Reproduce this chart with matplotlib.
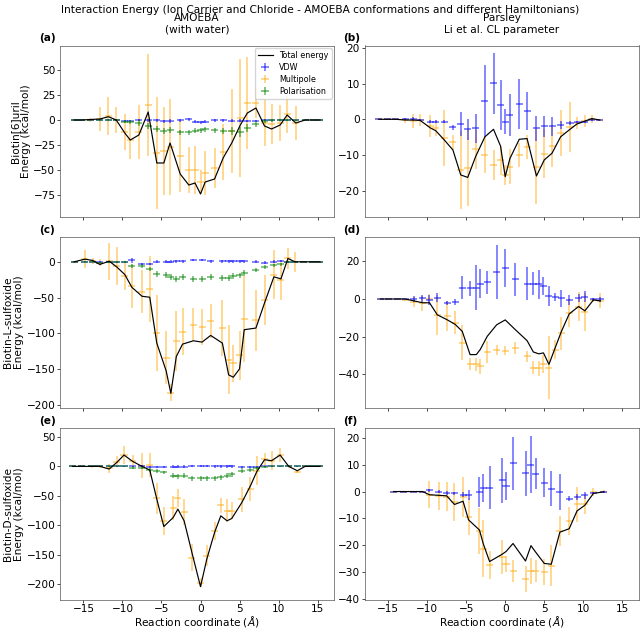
import matplotlib
matplotlib.use('Agg')
import matplotlib.pyplot as plt

plt.rcParams['font.family'] = ['DejaVu Sans']
FS = 7.6

# ---------------- data ----------------
# (a) AMOEBA, Biotin[6]uril
a_x = [-16.2, -15.2, -14.1, -12.9, -11.8, -10.8, -9.7, -9.0, -7.9, -6.7, -5.6, -4.7, -3.9, -2.6, -1.5, -0.7,
       0.0, 0.6, 1.8, 2.9, 4.0, 5.1, 6.0, 7.1, 8.2, 9.1, 10.2, 11.1, 12.2, 13.4, 14.5, 15.3]
a_total = [0, 0, 0.5, 1, 3.3, 0, -13, -20, -15, 8, -43, -43, -23, -54, -65, -63,
           -74, -62, -59, -38, -23, -5, 7, 12, -6, -9, -5, 5, -3, 0, 0, 0]
a_vdw = [0, 0, 0, 0.5, 0.5, 0, -0.7, -0.7, 0, 0, 0, -1, -1.3, 0, 0.7, -1.7,
         -2.3, -1.7, 0, -0.3, -0.7, -0.7, -0.7, -0.7, -0.3, -0.3, 0, 0, 0, 0, 0, 0]
a_vdw_err = [0, 0, 0.3, 0.5, 0.8, 0.8, 1, 1, 1.2, 1.5, 1.5, 1.5, 2, 1.5, 1.5, 1.5,
             1.5, 1.5, 1.5, 1.5, 1.5, 1.5, 1.2, 1, 1, 0.8, 0.8, 0.5, 0.5, 0.3, 0, 0]
a_mult = [0, 0, 0.5, 1, 4, 0, -12, -20, -12, 15, -33, -31, -27, -36, -50, -50,
          -62, -53, -48, -32, -11, 2, 17, 17, -3, -4, -3, 6, -3, 0, 0, 0]
a_mult_err = [0, 0, 2, 12, 19, 13, 18, 19, 27, 51, 56, 44, 48, 36, 23, 24,
              12, 22, 20, 28, 42, 59, 46, 15, 23, 20, 18, 19, 17, 1, 0, 0]
a_pol = [0, 0, 0, 0, 0, 0, -1.7, -1.7, -3.3, -6, -9.3, -10.7, -10, -12.3, -12.3, -10.7,
         -10, -9, -10, -10.7, -10.7, -11.7, -7.7, -4.3, -0.7, -0.3, 0, 0, 0, 0, 0, 0]
a_pol_err = [0, 0, 0.3, 0.5, 0.8, 1, 1.5, 2, 3, 3, 3, 3, 3, 2.5, 2.5, 2.5,
             2.5, 2.5, 2.5, 3, 4, 5, 4, 3, 2, 1.5, 1, 0.8, 0.5, 0.3, 0, 0]

# (b) Parsley, Biotin[6]uril
b_x = [-16.2, -15.1, -14.0, -12.8, -11.8, -10.9, -9.6, -8.9, -7.8, -6.7, -5.7, -4.8, -3.8, -2.6, -1.5,
       -0.6, 0.0, 0.6, 1.8, 2.8, 4.0, 5.0, 6.0, 7.1, 8.3, 9.2, 10.2, 11.1, 12.1]
b_total = [0, 0, 0, -0.2, -0.2, -0.3, -2.4, -3.2, -5.8, -8.6, -15.6, -16.3, -10.5, -4.9, -2.8,
           -7.5, -16.1, -11, -5.6, -5.4, -15.9, -11.4, -9.5, -4.9, -2.8, -1.3, -0.5, 0.2, -0.2]
b_vdw = [0, 0, 0, 0, 0, -0.2, -0.7, -0.7, -0.7, -2.2, -1.3, -2.8, -2.5, 5.1, 10.1,
         4.0, -0.7, 1.2, 4.3, 2.3, -2.5, -2.0, -2.0, -1.6, -1.1, -0.7, -0.7, -0.2, -0.2]
b_vdw_err = [0, 0, 0, 0.3, 0.6, 0.3, 0.4, 0.4, 0.4, 0.7, 3.4, 2.9, 4.1, 10, 8.6,
             7, 3.5, 6, 7, 5.4, 3.5, 3, 2.7, 1, 0.5, 0.3, 0.3, 0.2, 0.1]
b_mult = [0, 0, 0, -0.2, -0.4, -0.2, -1.9, -2.5, -5.3, -6.5, -14.2, -13.6, -8.4, -10, -12.8,
          -11.5, -15.6, -13.3, -10, -7.7, -13.3, -9.6, -7.5, -3.9, -2.2, -1, -0.4, 0.2, -0.2]
b_mult_err = [0, 0, 0, 0.7, 2, 1.7, 3, 2.3, 7.8, 2, 11, 10.8, 5.5, 5, 4.2,
              4, 2.8, 4.9, 3.3, 3.3, 10.5, 7, 6, 6.5, 7, 1.6, 1.7, 1.1, 0.3]

# (c) AMOEBA, Biotin-L-sulfoxide
c_x = [-16.2, -14.8, -13.8, -12.9, -11.7, -10.7, -9.7, -8.8, -7.5, -6.5, -5.6, -4.4, -3.8, -3.1, -2.3, -0.9,
       0.2, 1.3, 2.8, 3.6, 4.2, 5.0, 5.6, 7.1, 8.2, 9.4, 10.3, 11.2, 12.1, 13.2, 14.3, 15.3]
c_total = [0, 3.7, 1.9, -3.7, 0.9, -7.5, -17.8, -35.6, -48.2, -49.6, -113.8, -152.6, -184, -132.5, -115.2, -110.5,
           -112.4, -103, -113.8, -158.2, -161.5, -149.8, -95, -92.7, -57.6, -21, -23.9, 4.7, 0, 0, 0, 0]
c_vdw = [0, 0, 0, 0, 0, 0, 0, 2, -3, -3, 0, 0, 0, 1, 1, 2.5,
         2.5, 1, 1, 1, 1, 1, 1, 0, -1, 0, 1, 0, 0, 0, 0, 0]
c_vdw_err = [0, 0.5, 0.5, 1, 1, 1, 1.5, 3, 2, 2, 2, 2, 2, 2, 2, 2,
             2, 2, 2, 2, 2, 2, 2, 2, 2, 2, 1.5, 1, 0.5, 0, 0, 0]
c_mult = [0, 3.7, 1, -1.4, 0.9, -6, -20, -34, -42, -38, -100, -134, -183, -111, -98, -88,
          -91, -83, -93, -137, -142, -131, -80, -82, -54, -18, -25, 5, 0, 0, 0, 0]
c_mult_err = [0, 13, 4, 5, 26, 27, 20, 30, 30, 46, 53, 37, 12, 42, 33, 23,
              25, 24, 39, 48, 26, 34, 60, 43, 35, 34, 28, 15, 14, 0, 0, 0]
c_pol = [0, 0, 0, -1, 0, 0, 0, -6, -6, -10, -17, -18, -21.5, -24, -21, -24,
         -24, -21, -22.5, -22.5, -20, -19, -15.5, -11.7, -7, -4.7, -3.7, 0, 0, 0, 0, 0]
c_pol_err = [0, 0.5, 0.5, 1, 1, 1, 1.5, 3, 3, 3, 4, 4, 4, 4, 4, 4,
             4, 4, 4, 4, 4, 4, 4, 3, 3, 2, 2, 1, 0.5, 0, 0, 0]

# (d) Parsley, Biotin-L-sulfoxide
d_x = [-16.0, -14.9, -13.8, -12.8, -11.7, -10.6, -9.7, -8.7, -7.4, -6.4, -5.5, -4.5, -3.7, -3.2, -2.3,
       -1.1, 0.0, 1.3, 2.8, 3.6, 4.3, 4.9, 5.6, 6.4, 7.2, 8.2, 9.4, 10.2, 11.3, 12.2]
d_total = [0, 0, 0, 0, -1, -2, -2, -8.4, -11.1, -13.5, -17.2, -29.5, -29.5, -26.8, -19.8,
           -13.7, -11.1, -16.3, -22.1, -28.1, -29.1, -28.6, -34.7, -25.9, -17.2, -7.9, -4, -6.3, -0.5, -1]
d_vdw = [0, 0, 0, 0, 0, 0.4, -0.5, 0.7, -2, -1.4, 6, 5.6, 6, 8.2, 8.8,
         14.4, 16.5, 10.4, 8.2, 8.2, 7.7, 7, 1.6, 1.0, 0.4, -0.5, 0.7, 1.2, -0.2, -0.2]
d_vdw_err = [0, 0, 0, 0, 1.6, 1.8, 2.6, 2.5, 1.2, 1.6, 6, 4, 12, 7.5, 6,
             14.4, 10, 8.8, 8.8, 6, 7.5, 4.8, 5.5, 2, 4.6, 2.6, 2.2, 3, 0.8, 1.4]
d_mult = [0, 0, 0, -0.4, -1.4, -2.3, -0.2, -8.4, -8.9, -12.5, -23.2, -34.4, -34.7, -35.6, -28.1,
          -27, -27.4, -26, -30.5, -36.5, -36.8, -34.7, -36.5, -27, -18.1, -7.5, -4, -7, -0.5, -0.9]
d_mult_err = [0, 0, 0, 0.5, 2.6, 4, 2.6, 10.5, 8, 6, 9.2, 3.3, 3.5, 4, 5.6,
              2.5, 2.5, 3, 3, 3.5, 4, 4.8, 16.7, 5, 8.8, 7.3, 7.6, 10, 0.9, 4]

# (e) AMOEBA, Biotin-D-sulfoxide
e_x = [-16.4, -15.3, -13.9, -12.9, -11.7, -10.7, -9.8, -8.7, -7.5, -6.5, -5.6, -4.7, -3.5, -2.9, -2.1, -1.1,
       0.0, 0.8, 1.8, 2.6, 3.4, 4.0, 5.3, 6.4, 7.2, 8.2, 9.1, 10.2, 11.3, 12.4, 13.4, 14.4, 15.3]
e_total = [0, 0, 0, 0, -4.5, 7, 19.2, 8.5, 0, -6.2, -55.5, -101.9, -86.6, -72.4, -92.2, -146,
           -203.7, -157.3, -112, -83.8, -92.2, -88.3, -61.1, -32.8, -9.1, 11.3, 9.6, 19.2, 0, -7.4, 0, 0, 0]
e_vdw = [0, 0, 0, 0, 0, 0, 0, 0, 0, -1, -1.5, -1.5, -0.5, -0.5, -0.5, 1,
         1, 1, 0, 0, 0, 0, -1, -1, -1, 0, 0, 0, 0, 0, 0, 0, 0]
e_vdw_err = [0, 0, 0.5, 0.5, 1, 1, 1, 1, 1.5, 1.5, 2, 2, 2, 2, 2, 2,
             2, 2, 2, 2, 2, 2, 2, 2, 1.5, 1, 1, 1, 0.5, 0.5, 0, 0, 0]
e_mult = [0, 0, 0, 0, -3.4, 7.9, 19.2, 9.6, 1.1, 2.3, -54, -92, -71, -54, -78, -155,
          -197, -151, -110, -66, -75, -75, -56, -38, -7, 12, 9.6, 19, 0, -9, 0, 0, 0]
e_mult_err = [0, 0, 3, 3, 8, 9, 15, 10, 21, 20, 26, 24, 20, 15, 22, 23,
              8, 18, 15, 13, 20, 14, 21, 20, 25, 11, 16, 12, 3, 2, 0, 0, 0]
e_pol = [0, 0, 0, 0, 0, 0, 0, -2, -2, -5.7, -7.4, -10, -15.8, -17, -15.8, -20.4,
         -20.4, -20.4, -20, -18.7, -15.8, -13.6, -7.4, -5.7, -3.4, -1, 0, 0, 0, 0, 0, 0, 0]
e_pol_err = [0, 0, 0.5, 0.5, 1, 1, 1, 2, 2, 3, 3, 3, 4, 4, 4, 4,
             4, 4, 4, 4, 4, 4, 4, 3, 3, 2, 1, 1, 0.5, 0.5, 0, 0, 0]

# (f) Parsley, Biotin-D-sulfoxide
f_x = [-14.3, -13.0, -11.7, -10.6, -9.7, -8.5, -7.5, -6.5, -5.4, -4.7, -3.3, -2.8, -2.0, -0.4,
       0.1, 1.0, 2.6, 3.3, 3.9, 5.0, 5.9, 7.0, 8.2, 9.2, 10.2, 11.3, 12.6]
f_total = [0, 0, 0, 0, -1.2, -1.4, -1.6, -4.8, -3.6, -10.5, -14.3, -19.5, -26, -23.3,
           -22.3, -19.3, -25.8, -20.1, -22.5, -26.7, -27, -15.1, -13.8, -7.2, -5.1, -0.7, -0.1]
f_vdw = [0, 0, 0, 0, 0.4, -0.1, -0.5, -0.7, -1.1, -1.4, -0.1, 1.4, 1.4, 4.2,
         2.1, 10.5, 6.8, 10, 6.7, 3.3, 1.1, -0.1, -2.6, -2, -1.4, -0.5, -0.1]
f_vdw_err = [0, 0, 0, 0.3, 0.6, 0.6, 0.6, 0.6, 0.9, 1.9, 5.6, 5.1, 8, 8.4,
             5.2, 9.9, 8.3, 10.7, 5.6, 5.4, 6.5, 6.8, 1, 1.2, 1.2, 0.5, 0.3]
f_mult = [0, 0, 0, 0, -1.1, -1.7, -1.9, -4.0, -2.1, -9.3, -14.7, -21.2, -27.4, -24.3,
          -27, -29.5, -32.5, -29.5, -29.5, -30, -27.5, -14.7, -11, -4.8, -4.8, -0.2, -0.1]
f_mult_err = [0, 0, 0, 0.3, 4.9, 5.3, 5.3, 7, 7.4, 6.8, 8.6, 10.5, 5.2, 6.2,
              3, 4.2, 4.7, 4.8, 4, 4.8, 7.7, 5.7, 5.2, 6.5, 3.4, 1.4, 0.6]

column_titles = ['AMOEBA\n(with water)', 'Parsley\nLi et al. CL parameter']
row_labels = ['Biotin[6]uril\nEnergy (kcal/mol)', 'Biotin-L-sulfoxide\nEnergy (kcal/mol)',
              'Biotin-D-sulfoxide\nEnergy (kcal/mol)']
panel_tags = ['(a)', '(b)', '(c)', '(d)', '(e)', '(f)']
suptitle = 'Interaction Energy (Ion Carrier and Chloride - AMOEBA conformations and different Hamiltonians)'

panels = [
    dict(x=a_x, tot=a_total, vdw=a_vdw, vdwe=a_vdw_err, mul=a_mult, mule=a_mult_err, pol=a_pol, pole=a_pol_err,
         ylim=(-97, 74.5)),
    dict(x=b_x, tot=b_total, vdw=b_vdw, vdwe=b_vdw_err, mul=b_mult, mule=b_mult_err, pol=None, pole=None,
         ylim=(-27.4, 20.7)),
    dict(x=c_x, tot=c_total, vdw=c_vdw, vdwe=c_vdw_err, mul=c_mult, mule=c_mult_err, pol=c_pol, pole=c_pol_err,
         ylim=(-205, 35)),
    dict(x=d_x, tot=d_total, vdw=d_vdw, vdwe=d_vdw_err, mul=d_mult, mule=d_mult_err, pol=None, pole=None,
         ylim=(-58, 33)),
    dict(x=e_x, tot=e_total, vdw=e_vdw, vdwe=e_vdw_err, mul=e_mult, mule=e_mult_err, pol=e_pol, pole=e_pol_err,
         ylim=(-225.5, 65)),
    dict(x=f_x, tot=f_total, vdw=f_vdw, vdwe=f_vdw_err, mul=f_mult, mule=f_mult_err, pol=None, pole=None,
         ylim=(-40.1, 23.6)),
]

# ---------------- figure ----------------
W, H = 640, 628
fig = plt.figure(figsize=(W / 100, H / 100), dpi=100)
lefts = [60 / W, 364.7 / W]
aw = 274 / W
ah = 171.5 / H
bottoms = [1 - 217 / H, 1 - 408.3 / H, 1 - 599.5 / H]
XERR = 0.45

for i, p in enumerate(panels):
    r, c = divmod(i, 2)
    ax = fig.add_axes([lefts[c], bottoms[r], aw, ah])
    ax.plot(p['x'], p['tot'], color='black', lw=0.85, label='Total energy', zorder=4)
    ax.errorbar(p['x'], p['vdw'], yerr=p['vdwe'], xerr=XERR, fmt='none', ecolor='blue',
                alpha=0.6, elinewidth=1.1, label='VDW', zorder=3)
    ax.errorbar(p['x'], p['mul'], yerr=p['mule'], xerr=XERR, fmt='none', ecolor='orange',
                alpha=0.55, elinewidth=1.1, label='Multipole', zorder=2)
    if p['pol'] is not None:
        ax.errorbar(p['x'], p['pol'], yerr=p['pole'], xerr=XERR, fmt='none', ecolor='green',
                    alpha=0.6, elinewidth=1.1, label='Polarisation', zorder=3)
    ax.set_xlim(-18.0, 17.1)
    ax.set_ylim(*p['ylim'])
    ax.set_xticks([-15, -10, -5, 0, 5, 10, 15])
    ax.tick_params(labelsize=FS, length=2.0, width=0.5, pad=1.3)
    for s in ax.spines.values():
        s.set_linewidth(0.5)
        s.set_color('#555555')
    if r < 2:
        ax.set_xticklabels([])
    else:
        ax.set_xlabel(r'Reaction coordinate ($\AA$)', fontsize=FS, labelpad=0)
    if c == 0:
        ax.set_ylabel(row_labels[r], fontsize=FS, labelpad=1.5)
    if r == 0:
        ax.set_title(column_titles[c], fontsize=FS, pad=9)
    ax.text(-0.078, 1.012, panel_tags[i], transform=ax.transAxes, fontsize=FS,
            fontweight='bold', ha='left', va='bottom')
    if i == 0:
        ax.legend(loc='upper right', fontsize=5.8, borderaxespad=0.3, handlelength=1.8,
                  labelspacing=0.35, borderpad=0.4, framealpha=0.8)

fig.text(0.5, 1 - 10 / H, suptitle, fontsize=FS, ha='center', va='center')
fig.savefig('out.png', dpi=100)
